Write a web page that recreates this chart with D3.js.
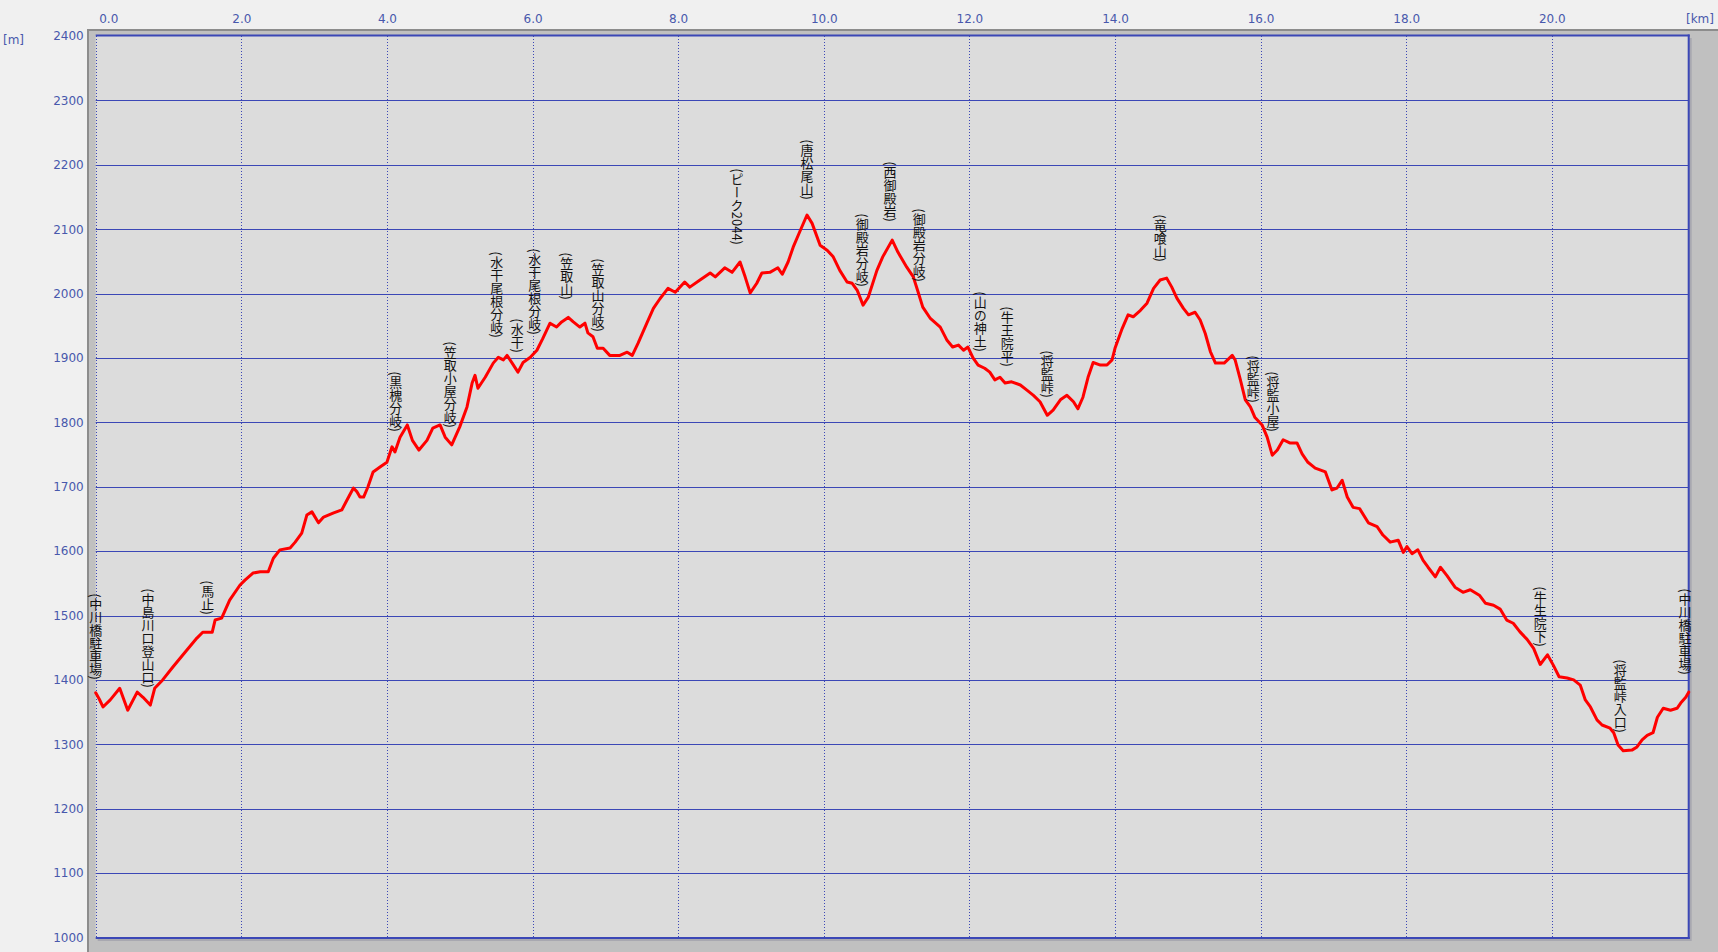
<!DOCTYPE html>
<html>
<head>
<meta charset="utf-8">
<script src="https://cdn.jsdelivr.net/npm/d3@7"></script>
<style>
  html, body { margin: 0; padding: 0; background: #f0f0f0; }
  #wrap { position: relative; width: 1718px; height: 952px; }
  svg { display: block; position: absolute; left: 0; top: 0; }
  .wp {
    position: absolute;
    writing-mode: vertical-rl;
    text-orientation: mixed;
    font-family: 'Noto Sans CJK JP', sans-serif;
    font-size: 13px;
    line-height: 15px;
    color: #111;
    white-space: nowrap;
    transform: translate(-50%, -100%);
  }
</style>
</head>
<body>
<div id="wrap">
<svg id="chart" width="1718" height="952"></svg>
<div id="labels"></div>
</div>
<script>
// ---- data ----
const distanceKm = [
  0.00,0.05,0.10,0.20,0.33,0.44,0.57,0.65,0.75,0.81,0.92,1.06,1.25,1.39,1.47,1.60,1.64,1.73,1.84,1.98,
  2.05,2.16,2.26,2.37,2.44,2.53,2.67,2.74,2.83,2.90,2.97,3.06,3.13,3.26,3.38,3.45,3.54,3.59,3.63,3.68,
  3.74,3.81,3.91,4.00,4.07,4.11,4.18,4.28,4.35,4.44,4.55,4.63,4.73,4.80,4.89,5.00,5.10,5.17,5.21,5.25,
  5.35,5.46,5.53,5.60,5.65,5.72,5.80,5.87,5.97,6.06,6.14,6.24,6.33,6.40,6.49,6.56,6.65,6.72,6.76,6.83,
  6.89,6.97,7.06,7.20,7.30,7.37,7.45,7.57,7.66,7.75,7.86,7.96,8.09,8.16,8.30,8.44,8.51,8.64,8.74,8.85,
  8.92,8.99,9.08,9.15,9.26,9.37,9.43,9.51,9.58,9.67,9.77,9.84,9.95,10.05,10.13,10.22,10.32,10.39,10.46,10.54,
  10.61,10.73,10.81,10.94,11.02,11.14,11.23,11.30,11.36,11.46,11.60,11.69,11.77,11.85,11.92,11.98,12.05,12.12,12.21,12.28,
  12.35,12.42,12.49,12.58,12.70,12.79,12.88,12.97,13.07,13.15,13.25,13.34,13.43,13.49,13.56,13.63,13.70,13.80,13.89,13.96,
  14.00,14.10,14.18,14.25,14.35,14.44,14.53,14.62,14.71,14.78,14.85,14.94,15.01,15.10,15.17,15.24,15.31,15.38,15.50,15.61,
  15.65,15.72,15.79,15.86,15.92,16.02,16.09,16.16,16.23,16.31,16.40,16.50,16.57,16.65,16.75,16.89,16.98,17.05,17.12,17.19,
  17.27,17.36,17.48,17.60,17.68,17.78,17.89,17.96,18.01,18.08,18.16,18.23,18.30,18.40,18.47,18.56,18.67,18.78,18.88,19.01,
  19.09,19.20,19.29,19.38,19.47,19.56,19.66,19.75,19.84,19.94,20.02,20.10,20.21,20.30,20.39,20.46,20.53,20.62,20.69,20.80,
  20.85,20.91,20.98,21.10,21.17,21.24,21.31,21.39,21.45,21.53,21.63,21.72,21.77,21.84,21.88
];
const elevationM = [
  1380,1370,1358,1369,1387,1353,1381,1373,1361,1387,1400,1420,1446,1465,1474,1474,1493,1496,1524,1547,
  1555,1566,1568,1568,1589,1602,1605,1614,1628,1656,1661,1644,1653,1659,1664,1679,1698,1692,1684,1684,
  1700,1723,1731,1738,1762,1754,1777,1796,1772,1757,1772,1791,1796,1777,1765,1793,1824,1861,1873,1853,
  1870,1892,1901,1897,1904,1892,1878,1893,1901,1912,1930,1954,1948,1956,1963,1956,1948,1954,1939,1933,
  1915,1915,1904,1904,1909,1904,1923,1954,1977,1992,2008,2002,2018,2010,2021,2032,2026,2040,2033,2049,
  2026,2001,2016,2032,2033,2040,2030,2049,2072,2096,2122,2109,2075,2067,2057,2036,2018,2016,2005,1982,
  1994,2036,2057,2083,2064,2041,2026,2001,1979,1962,1948,1928,1917,1920,1912,1917,1900,1889,1884,1878,
  1866,1870,1861,1863,1858,1850,1842,1832,1811,1819,1835,1842,1832,1821,1839,1870,1893,1889,1889,1897,
  1915,1946,1967,1964,1974,1985,2008,2021,2024,2010,1993,1977,1967,1971,1959,1938,1910,1892,1892,1904,
  1897,1867,1835,1824,1808,1796,1777,1749,1757,1773,1768,1768,1751,1738,1729,1723,1695,1698,1710,1684,
  1668,1666,1644,1638,1625,1614,1617,1598,1607,1596,1602,1586,1575,1560,1575,1562,1544,1536,1540,1531,
  1519,1516,1510,1493,1488,1475,1463,1449,1424,1439,1423,1405,1403,1400,1392,1369,1358,1338,1330,1325,
  1318,1299,1290,1291,1296,1307,1314,1318,1342,1356,1353,1356,1364,1373,1381
];
const waypointNames = [
  "中川橋駐車場","中島川口登山口","馬止","黒槐分岐","笠取小屋分岐","水干尾根分岐","水干","水干尾根分岐",
  "笠取山","笠取山分岐","ピーク2044","唐松尾山","御殿岩分岐","西御殿岩","御殿岩分岐","山の神土",
  "牛王院平","将監峠","竜喰山","将監峠","将監小屋","牛生院下","将監峠入口","中川橋駐車場"
];
const waypointKm = [
  0.0,0.72,1.54,4.12,4.87,5.51,5.79,6.03,
  6.47,6.90,8.81,9.77,10.53,10.91,11.31,12.15,
  12.52,13.07,14.62,15.90,16.17,19.84,20.94,21.83
];
const waypointElev = [
  1381,1369,1482,1766,1773,1912,1889,1917,
  1971,1922,2057,2127,1992,2092,1999,1891,
  1867,1819,2030,1811,1766,1432,1299,1389
];
const xTickValues = [0,2,4,6,8,10,12,14,16,18,20];
const yTickValues = [1000,1100,1200,1300,1400,1500,1600,1700,1800,1900,2000,2100,2200,2300,2400];
const xUnit = "[km]";
const yUnit = "[m]";

// ---- layout ----
const plotL = 95.7, plotR = 1688.7, plotT = 36, plotB = 937.5;
const x = d3.scaleLinear().domain([0, 21.88]).range([plotL, plotR]);
const y = d3.scaleLinear().domain([1000, 2400]).range([plotB, plotT]);
const blue = "#3b47b6";
const labelBlue = "#4858ac";

const svg = d3.select("#chart");

// frame
svg.append("rect").attr("x", 87).attr("y", 29).attr("width", 1718 - 87).attr("height", 952 - 29).attr("fill", "#c0c0c0");
svg.append("rect").attr("x", 87).attr("y", 29).attr("width", 2).attr("height", 952 - 29).attr("fill", "#8c8c8c");
svg.append("rect").attr("x", 87).attr("y", 29).attr("width", 1718 - 87).attr("height", 2).attr("fill", "#8c8c8c");
// shadow
svg.append("rect").attr("x", plotL + 2).attr("y", plotT + 2).attr("width", plotR - plotL + 1).attr("height", plotB - plotT + 1.5).attr("fill", "#a8a8b0");
// plot bg
svg.append("rect").attr("x", plotL).attr("y", plotT - 1).attr("width", plotR - plotL).attr("height", plotB - plotT + 1).attr("fill", "#dcdcdc");

// horizontal grid
svg.append("g").selectAll("line").data(yTickValues.filter(v => v > 1000 && v < 2400)).join("line")
  .attr("x1", plotL).attr("x2", plotR)
  .attr("y1", d => Math.round(y(d)) + 0.5).attr("y2", d => Math.round(y(d)) + 0.5)
  .attr("stroke", blue).attr("stroke-width", 1);
// vertical grid (dotted)
svg.append("g").selectAll("line").data(xTickValues).join("line")
  .attr("x1", d => Math.round(x(d)) + 0.5).attr("x2", d => Math.round(x(d)) + 0.5)
  .attr("y1", plotT).attr("y2", plotB)
  .attr("stroke", blue).attr("stroke-width", 1).attr("stroke-dasharray", "1,2");

// border
svg.append("line").attr("x1", plotL).attr("x2", plotR + 1).attr("y1", plotT - 0.5).attr("y2", plotT - 0.5).attr("stroke", blue).attr("stroke-width", 2);
svg.append("line").attr("x1", plotL).attr("x2", plotR + 1).attr("y1", plotB + 0.5).attr("y2", plotB + 0.5).attr("stroke", blue).attr("stroke-width", 2);
svg.append("line").attr("x1", plotR).attr("x2", plotR).attr("y1", plotT - 1.5).attr("y2", plotB + 1.5).attr("stroke", blue).attr("stroke-width", 2);

// profile
const pts = distanceKm.map((d, i) => ({ km: d, e: elevationM[i] }));
const line = d3.line().x(d => x(d.km)).y(d => y(d.e));
svg.append("path").datum(pts).attr("d", line)
  .attr("fill", "none").attr("stroke", "#ff0000").attr("stroke-width", 3)
  .attr("stroke-linejoin", "round").attr("stroke-linecap", "round");

// waypoint labels (vertical, HTML overlay)
d3.select("#labels").selectAll("div")
  .data(waypointNames.map((n, i) => ({ n, km: waypointKm[i], e: waypointElev[i] })))
  .join("div")
  .attr("class", "wp")
  .style("left", d => x(d.km) + "px")
  .style("top", d => (y(d.e) - 12) + "px")
  .text(d => "(" + d.n + ")");

// axes
const xAxis = d3.axisTop(x).tickValues(xTickValues).tickFormat(d3.format(".1f")).tickSize(0).tickPadding(12);
const gx = svg.append("g").attr("transform", `translate(0,${plotT - 1})`).call(xAxis);
gx.select(".domain").remove();
gx.selectAll("text").attr("font-family", "'DejaVu Sans', Verdana, sans-serif").attr("font-size", 12).attr("fill", labelBlue);
gx.selectAll("text").filter(d => d === 0).attr("text-anchor", "start").attr("dx", 3);

const yAxis = d3.axisLeft(y).tickValues(yTickValues).tickFormat(d3.format("d")).tickSize(0).tickPadding(12);
const gy = svg.append("g").attr("transform", `translate(${plotL},0)`).call(yAxis);
gy.select(".domain").remove();
gy.selectAll("text").attr("font-family", "'DejaVu Sans', Verdana, sans-serif").attr("font-size", 12).attr("fill", labelBlue);

svg.append("text").attr("x", 1714).attr("y", 23).attr("text-anchor", "end")
  .attr("font-family", "'DejaVu Sans', Verdana, sans-serif").attr("font-size", 12).attr("fill", labelBlue).text(xUnit);
svg.append("text").attr("x", 3).attr("y", 44)
  .attr("font-family", "'DejaVu Sans', Verdana, sans-serif").attr("font-size", 12).attr("fill", labelBlue).text(yUnit);
</script>
</body>
</html>
